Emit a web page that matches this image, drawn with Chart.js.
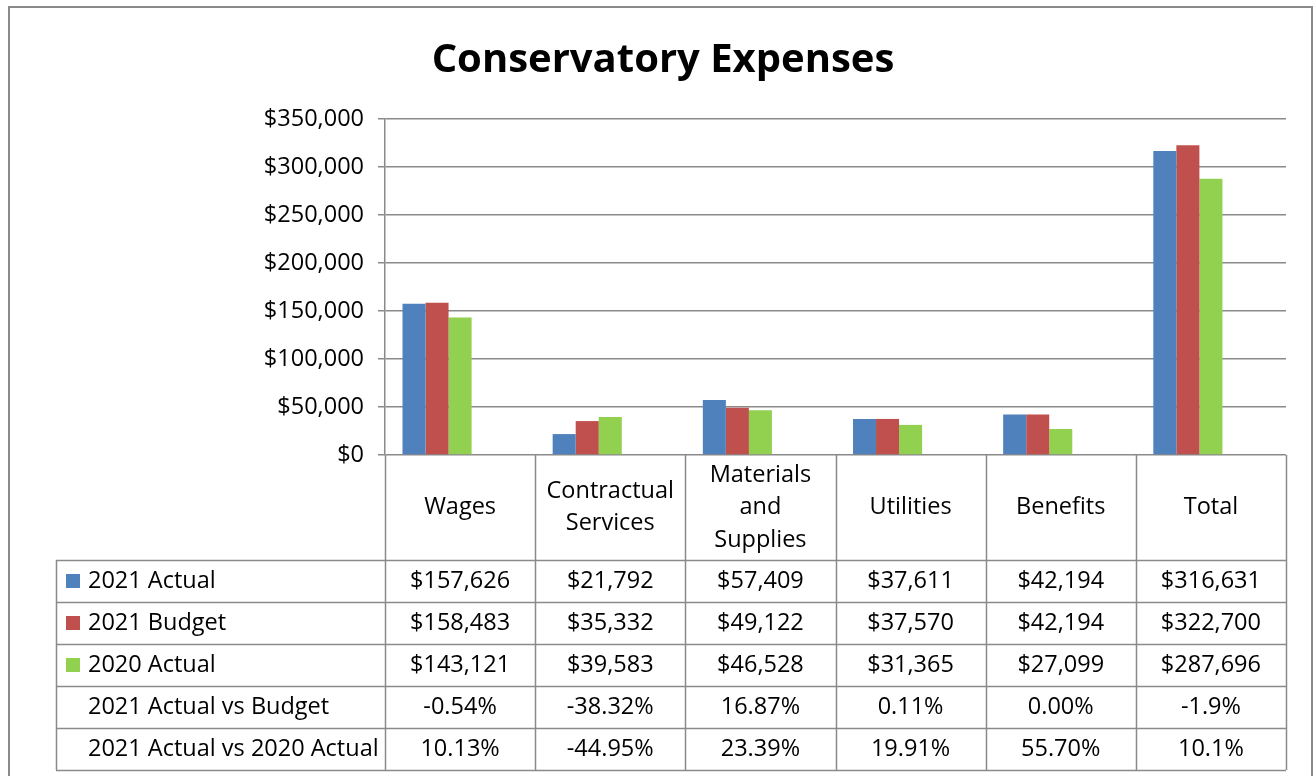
<!DOCTYPE html>
<html>
<head>
<meta charset="utf-8">
<script src="https://cdn.jsdelivr.net/npm/chart.js@4"></script>
<style>
  html, body { margin: 0; padding: 0; background: #fff; }
  canvas { display: block; }
</style>
</head>
<body>
<canvas id="expChart" width="1316" height="776"></canvas>
<script>
// données du graphique
const categories = ['Wages', ['Contractual', 'Services'], ['Materials', 'and', 'Supplies'], 'Utilities', 'Benefits', 'Total'];
const actual2021 = [157626, 21792, 57409, 37611, 42194, 316631];
const budget2021 = [158483, 35332, 49122, 37570, 42194, 322700];
const actual2020 = [143121, 39583, 46528, 31365, 27099, 287696];
const vsBudget = ['-0.54%', '-38.32%', '16.87%', '0.11%', '0.00%', '-1.9%'];
const vs2020 = ['10.13%', '-44.95%', '23.39%', '19.91%', '55.70%', '10.1%'];
const seriesNames = ['2021 Actual', '2021 Budget', '2020 Actual', '2021 Actual vs Budget', '2021 Actual vs 2020 Actual'];
const seriesColors = ['#4F81BD', '#C0504D', '#92D050'];

const FONT = '"Open Sans", "Noto Sans", sans-serif';
const GRID = '#8a8a8a';

function money(v) {
    return '$' + v.toLocaleString('en-US');
}
// les pourcentages sont des séries aussi (barres invisibles, quasi nulles)
function pct(s) {
    return parseFloat(s) / 100;
}

// cadre + tableau de données sous le graphique
const dataTable = {
    id: 'dataTable',
    beforeDraw(chart) {
        const ctx = chart.ctx;
        ctx.save();
        ctx.fillStyle = '#fff';
        ctx.fillRect(0, 0, chart.width, chart.height);
        ctx.strokeStyle = GRID;
        ctx.lineWidth = 2;
        ctx.strokeRect(9, 7, 1303, 800);
        ctx.restore();
    },
    afterDraw(chart) {
        const ctx = chart.ctx;
        const xs = chart.scales.x;
        const top = chart.chartArea.bottom;
        const band = (xs.right - xs.left) / categories.length;
        const headBottom = top + 105;
        const rowH = 42;
        const tableLeft = 56;
        const rows = [
            actual2021.map(money),
            budget2021.map(money),
            actual2020.map(money),
            vsBudget,
            vs2020
        ];
        const bottom = headBottom + rowH * rows.length;

        ctx.save();
        ctx.strokeStyle = GRID;
        ctx.lineWidth = 1.5;
        ctx.beginPath();
        for (let i = 0; i <= categories.length; i++) {
            const x = Math.round(xs.left + i * band) + 0.5;
            ctx.moveTo(x, top);
            ctx.lineTo(x, bottom);
        }
        ctx.moveTo(tableLeft + 0.5, headBottom);
        ctx.lineTo(tableLeft + 0.5, bottom);
        for (let r = 0; r <= rows.length; r++) {
            const y = Math.round(headBottom + r * rowH) + 0.5;
            ctx.moveTo(tableLeft, y);
            ctx.lineTo(xs.right, y);
        }
        ctx.stroke();

        ctx.fillStyle = '#000';
        ctx.font = '23.5px ' + FONT;
        ctx.textBaseline = 'middle';
        ctx.textAlign = 'center';
        // en-têtes de catégories
        categories.forEach((c, i) => {
            const lines = Array.isArray(c) ? c : [c];
            const cx = xs.getPixelForValue(i);
            const cy = (top + headBottom) / 2;
            lines.forEach((l, k) => {
                ctx.fillText(l, cx, cy + (k - (lines.length - 1) / 2) * 32.5);
            });
        });
        // valeurs
        rows.forEach((row, r) => {
            const cy = headBottom + r * rowH + rowH / 2;
            row.forEach((v, i) => {
                ctx.fillText(v, xs.getPixelForValue(i), cy);
            });
        });
        // libellés de lignes avec légende
        ctx.textAlign = 'left';
        seriesNames.forEach((lab, r) => {
            const cy = headBottom + r * rowH + rowH / 2;
            if (r < seriesColors.length) {
                ctx.fillStyle = seriesColors[r];
                ctx.fillRect(66, cy - 7, 14, 14);
            }
            ctx.fillStyle = '#000';
            ctx.fillText(lab, 88, cy);
        });
        ctx.restore();
    }
};

new Chart(document.getElementById('expChart'), {
    type: 'bar',
    data: {
        labels: categories,
        datasets: [
            { label: seriesNames[0], data: actual2021, backgroundColor: seriesColors[0] },
            { label: seriesNames[1], data: budget2021, backgroundColor: seriesColors[1] },
            { label: seriesNames[2], data: actual2020, backgroundColor: seriesColors[2] },
            { label: seriesNames[3], data: vsBudget.map(pct), backgroundColor: 'transparent' },
            { label: seriesNames[4], data: vs2020.map(pct), backgroundColor: 'transparent' }
        ]
    },
    options: {
        responsive: false,
        animation: false,
        categoryPercentage: 0.767,
        barPercentage: 1,
        layout: { padding: { top: 7, right: 30, bottom: 313, left: 40 } },
        plugins: {
            legend: { display: false },
            tooltip: { enabled: false },
            title: {
                display: true,
                text: 'Conservatory Expenses',
                color: '#000',
                font: { family: FONT, size: 40, weight: 'bold' },
                padding: { top: 30, bottom: 34 }
            }
        },
        scales: {
            x: {
                ticks: { display: false },
                grid: { display: false },
                border: { display: false }
            },
            y: {
                min: 0,
                max: 350000,
                ticks: {
                    stepSize: 50000,
                    color: '#000',
                    padding: 14,
                    font: { family: FONT, size: 23.5 },
                    callback: v => money(v)
                },
                grid: { color: GRID, lineWidth: 1.5, tickLength: 7 },
                border: { color: GRID, width: 1.5 },
                afterFit: s => { s.width = 345; }
            }
        }
    },
    plugins: [dataTable]
});
</script>
</body>
</html>
